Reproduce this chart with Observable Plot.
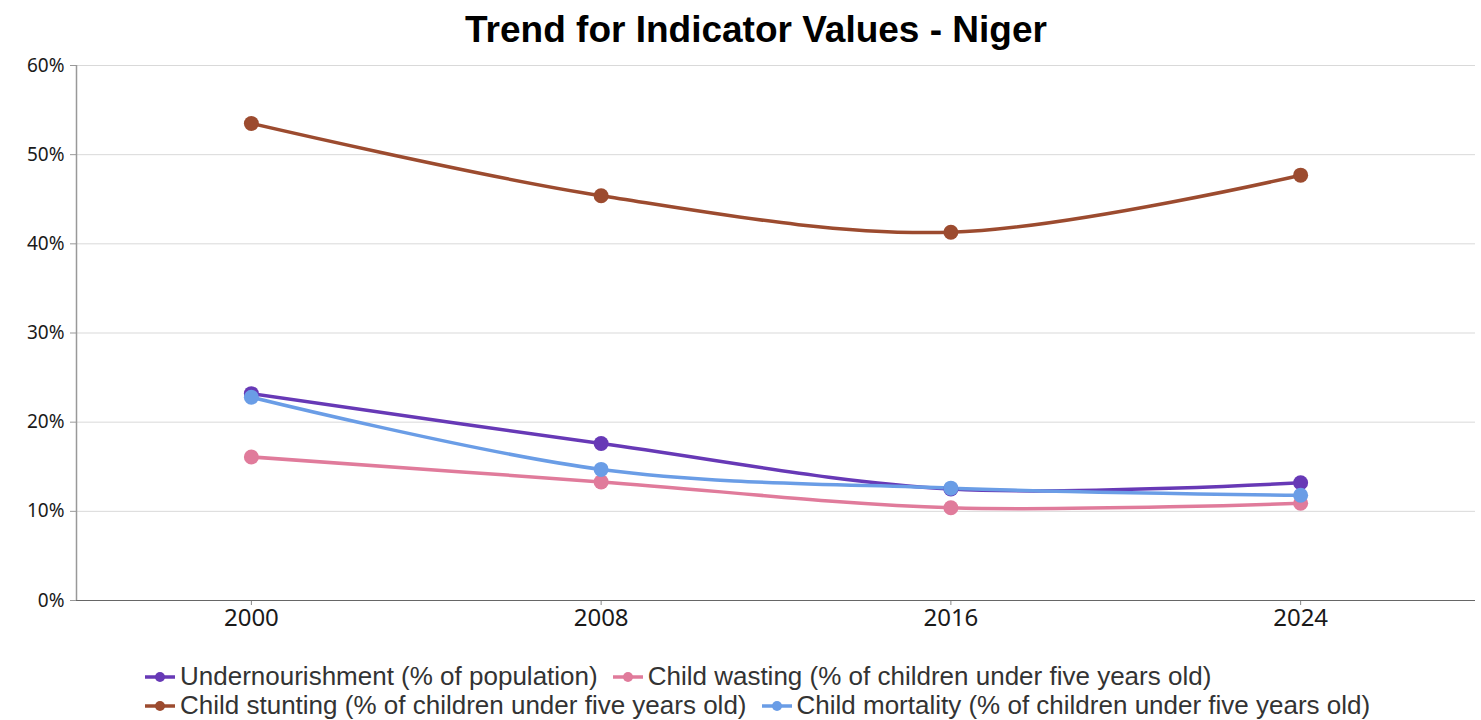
<!DOCTYPE html>
<html>
<head>
<meta charset="utf-8">
<script src="https://cdn.jsdelivr.net/npm/d3@7"></script>
<script src="https://cdn.jsdelivr.net/npm/@observablehq/plot@0.6"></script>
<style>
  html, body { margin: 0; padding: 0; background: #fff; }
  #title { height: 40px; padding-top: 10px; padding-left: 31px; line-height: 40px; text-align: center;
    font-family: "Liberation Sans", Arial, sans-serif; font-weight: bold; font-size: 37px; color: #000; }
  #legend { margin-left: 145px; width: 1240px; padding-top: 12px; display: flex; flex-wrap: wrap;
    column-gap: 15px; row-gap: 0; font-family: "Liberation Sans", Arial, sans-serif; font-size: 26px; color: #333; }
  .item { display: flex; align-items: center; height: 29px; white-space: nowrap; }
  .item svg { margin-right: 5px; }
</style>
</head>
<body>
<div id="title">Trend for Indicator Values - Niger</div>
<div id="chart"></div>
<div id="legend"></div>
<script>
const years = [2000, 2008, 2016, 2024];
const seriesNames = [
  "Undernourishment (% of population)",
  "Child wasting (% of children under five years old)",
  "Child stunting (% of children under five years old)",
  "Child mortality (% of children under five years old)"
];
const colors = ["#6739b6", "#e07b9b", "#9c4b2f", "#6a9de6"];
const undernourishment = [23.2, 17.6, 12.5, 13.2];
const wasting = [16.1, 13.3, 10.4, 10.9];
const stunting = [53.5, 45.4, 41.3, 47.7];
const mortality = [22.8, 14.7, 12.6, 11.8];
const yTicks = [0, 10, 20, 30, 40, 50, 60];
const xDomain = [1996, 2028];

const valuesBySeries = [undernourishment, wasting, stunting, mortality];
const rows = [];
seriesNames.forEach((s, i) => years.forEach((y, j) => rows.push({series: s, year: y, value: valuesBySeries[i][j]})));

const chart = Plot.plot({
  width: 1481, height: 600,
  marginTop: 15, marginBottom: 50, marginLeft: 76, marginRight: 6,
  style: {fontFamily: "'Noto Sans', sans-serif", color: "#1a1a1a", background: "white"},
  x: {domain: xDomain, label: null},
  y: {domain: [0, 60], label: null},
  color: {domain: seriesNames, range: colors},
  marks: [
    Plot.gridY(yTicks, {stroke: "#d9d9d9", strokeOpacity: 1}),
    Plot.axisY(yTicks, {tickSize: 6, tickPadding: 6, tickFormat: d => d + "%", stroke: "#999", label: null, fontSize: 19}),
    Plot.axisX(years, {tickSize: 5, tickPadding: 3, tickFormat: d => String(d), stroke: "#888", label: null, fontSize: 24}),
    Plot.ruleX([xDomain[0]], {stroke: "#999", strokeWidth: 1.5}),
    Plot.ruleY([0], {stroke: "#666", strokeWidth: 1.2}),
    Plot.line(rows, {x: "year", y: "value", z: "series", stroke: "series", curve: "catmull-rom", strokeWidth: 3.5}),
    Plot.dot(rows, {x: "year", y: "value", fill: "series", r: 7.5})
  ]
});
document.getElementById("chart").appendChild(chart);

const legend = document.getElementById("legend");
seriesNames.forEach((s, i) => {
  const item = document.createElement("div");
  item.className = "item";
  item.innerHTML = `<svg width="30" height="14"><line x1="0" x2="30" y1="7" y2="7" stroke="${colors[i]}" stroke-width="3.5"/><circle cx="15" cy="7" r="5" fill="${colors[i]}"/></svg><span>${s}</span>`;
  legend.appendChild(item);
});
</script>
</body>
</html>
